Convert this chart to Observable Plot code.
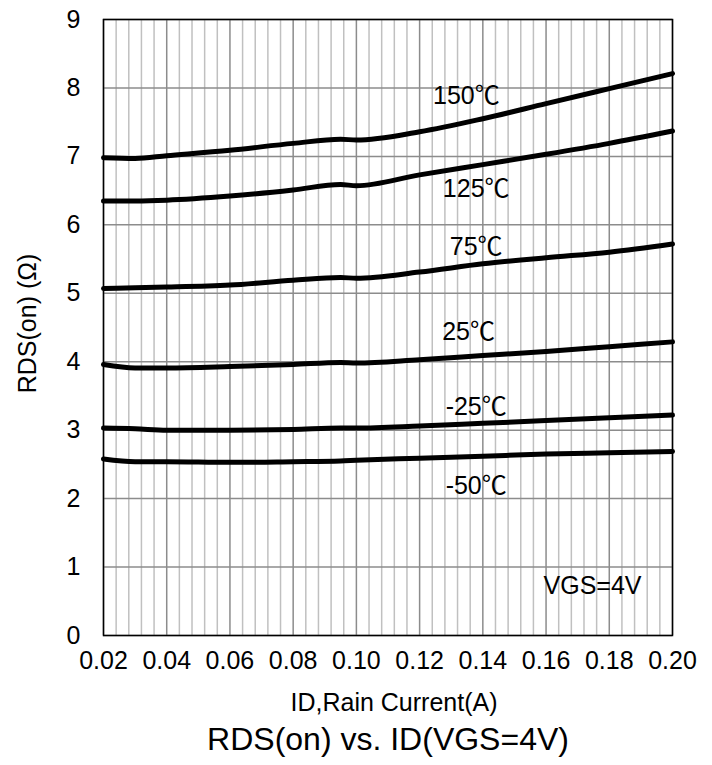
<!DOCTYPE html>
<html>
<head>
<meta charset="utf-8">
<script src="https://cdn.jsdelivr.net/npm/d3@7"></script>
<script src="https://cdn.jsdelivr.net/npm/@observablehq/plot@0.6"></script>
<style>
  html, body { margin: 0; padding: 0; background: #fff; }
</style>
</head>
<body>
<div id="chart"></div>
<script>
// Drain current (A) sample points
const ids = [0.02, 0.03, 0.04, 0.06, 0.08, 0.095, 0.10, 0.12, 0.14, 0.16, 0.18, 0.20];

// RDS(on) (Ω) per temperature
const r150 = [6.98, 6.97, 7.01, 7.09, 7.19, 7.25, 7.24, 7.36, 7.55, 7.77, 7.99, 8.21];
const r125 = [6.35, 6.35, 6.36, 6.42, 6.51, 6.59, 6.57, 6.73, 6.88, 7.03, 7.19, 7.37];
const r75  = [5.07, 5.08, 5.09, 5.12, 5.19, 5.23, 5.22, 5.31, 5.43, 5.52, 5.60, 5.72];
const r25  = [3.96, 3.91, 3.91, 3.93, 3.96, 3.99, 3.98, 4.03, 4.09, 4.15, 4.22, 4.29];
const rm25 = [3.03, 3.02, 3.00, 3.00, 3.01, 3.03, 3.03, 3.06, 3.10, 3.14, 3.18, 3.22];
const rm50 = [2.58, 2.54, 2.54, 2.53, 2.54, 2.55, 2.56, 2.59, 2.62, 2.65, 2.67, 2.69];

const seriesNames = ["150℃", "125℃", "75℃", "25℃", "-25℃", "-50℃"];
const seriesValues = [r150, r125, r75, r25, rm25, rm50];

// Curve label anchor points (data coordinates)
const labelX = [0.1348, 0.1379, 0.1379, 0.1355, 0.1379, 0.1379];
const labelY = [7.88, 6.52, 5.68, 4.43, 3.34, 2.19];
const noteText = "VGS=4V";
const noteX = 0.1747;
const noteY = 0.73;

// Axes ticks
const xTicks = [0.02, 0.04, 0.06, 0.08, 0.10, 0.12, 0.14, 0.16, 0.18, 0.20];
const yTicks = [0, 1, 2, 3, 4, 5, 6, 7, 8, 9];
const xMinor = d3.range(0, 46).map(i => +(0.02 + i * 0.004).toFixed(3)).filter(v => v < 0.2 && !xTicks.some(t => Math.abs(t - v) < 1e-9));

const title = "RDS(on) vs. ID(VGS=4V)";
const xLabel = "ID,Rain Current(A)";
const yLabel = "RDS(on) (Ω)";

const rows = [];
seriesNames.forEach((name, k) => {
  ids.forEach((x, i) => rows.push({series: name, x, y: seriesValues[k][i]}));
});
const labels = seriesNames.map((name, k) => ({text: name, x: labelX[k], y: labelY[k]}));

const font = "'Liberation Sans', Arial, 'Noto Sans CJK SC', sans-serif";

const chart = Plot.plot({
  width: 712,
  height: 765,
  marginTop: 19,
  marginBottom: 130,
  marginLeft: 103,
  marginRight: 40,
  style: {fontFamily: font, fontSize: "25px", color: "#000", background: "#fff"},
  x: {domain: [0.02, 0.20]},
  y: {domain: [0, 9]},
  marks: [
    Plot.ruleX(xMinor, {stroke: "#c0c0c0", strokeWidth: 1.5}),
    Plot.ruleX(xTicks, {stroke: "#8c8c8c", strokeWidth: 1.5}),
    Plot.ruleY(yTicks, {stroke: "#8c8c8c", strokeWidth: 1.5}),
    Plot.line(rows, {x: "x", y: "y", z: "series", stroke: "#000", strokeWidth: 5, curve: "monotone-x"}),
    Plot.text(labels, {x: "x", y: "y", text: "text", fontSize: 25, fill: "#000"}),
    Plot.text([noteText], {x: () => noteX, y: () => noteY, text: d => d, fontSize: 25, fill: "#000"}),
    Plot.frame({stroke: "#000", strokeWidth: 1.5}),
    Plot.axisX({ticks: xTicks, tickFormat: d3.format(".2f"), tickSize: 0, tickPadding: 16, label: null, fontSize: 25}),
    Plot.axisY({ticks: yTicks, tickSize: 0, tickPadding: 23, label: null, fontSize: 25}),
    Plot.text([xLabel], {frameAnchor: "bottom", lineAnchor: "middle", textAnchor: "middle", dy: 67, dx: 6, text: d => d, fontSize: 25}),
    Plot.text([title], {frameAnchor: "bottom", lineAnchor: "middle", textAnchor: "middle", dy: 104, text: d => d, fontSize: 32}),
    Plot.text([yLabel], {frameAnchor: "left", lineAnchor: "middle", textAnchor: "middle", dx: -76, dy: -4, rotate: -90, text: d => d, fontSize: 25})
  ]
});
document.getElementById("chart").appendChild(chart);
</script>
</body>
</html>
